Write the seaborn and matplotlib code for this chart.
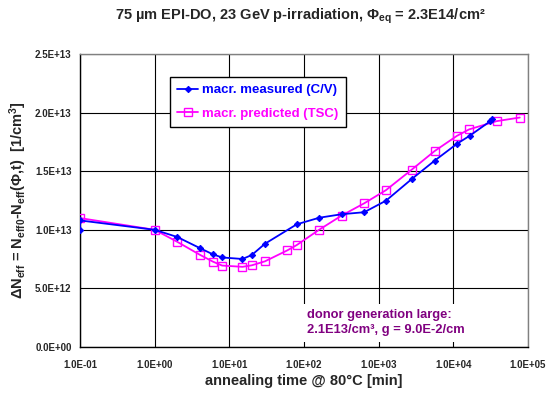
import matplotlib
matplotlib.use("Agg")
import matplotlib.pyplot as plt
import matplotlib.ticker as mticker
import numpy as np
import pandas as pd
import seaborn as sns

# annealing times [min] and effective doping change [1/cm^3]
t_measured = [0.1, 0.1, 1, 2, 4, 6, 8, 15, 20, 30, 80, 160, 320, 640, 1250,
              2770, 5620, 11200, 16600, 31000, 33000]
n_measured = [1.00e13, 1.08e13, 1.00e13, 9.39e12, 8.45e12, 7.91e12, 7.64e12,
              7.51e12, 7.85e12, 8.81e12, 1.047e13, 1.103e13, 1.133e13,
              1.150e13, 1.248e13, 1.433e13, 1.590e13, 1.734e13, 1.803e13,
              1.925e13, 1.943e13]

t_predicted = [0.1, 1, 2, 4, 6, 8, 15, 20, 30, 60, 80, 160, 320, 640, 1250,
               2770, 5620, 11200, 16300, 38000, 77600]
n_predicted = [1.10e13, 1.00e13, 8.98e12, 7.88e12, 7.29e12, 6.95e12, 6.84e12,
               6.97e12, 7.31e12, 8.25e12, 8.70e12, 1.001e13, 1.122e13,
               1.226e13, 1.338e13, 1.513e13, 1.672e13, 1.802e13, 1.857e13,
               1.927e13, 1.958e13]

label_measured = "macr. measured (C/V)"
label_predicted = "macr. predicted (TSC)"

x_ticks = [1e-1, 1e0, 1e1, 1e2, 1e3, 1e4, 1e5]
y_ticks = [0, 5e12, 1e13, 1.5e13, 2e13, 2.5e13]

sns.set_theme(style="white")
plt.rcParams["font.family"] = ["Liberation Sans", "DejaVu Sans"]
plt.rcParams["font.weight"] = "bold"
plt.rcParams["mathtext.fontset"] = "custom"
plt.rcParams["mathtext.rm"] = "Liberation Sans:bold"
plt.rcParams["mathtext.it"] = "Liberation Sans:bold"
plt.rcParams["mathtext.bf"] = "Liberation Sans:bold"

fig = plt.figure(figsize=(5.5, 3.96), dpi=100, facecolor="white")
ax = fig.add_axes([80 / 550, 1 - 347 / 396, 448 / 550, 293 / 396])
ax.set_facecolor("white")

df_m = pd.DataFrame({"t": t_measured, "n": n_measured})
df_p = pd.DataFrame({"t": t_predicted, "n": n_predicted})

sns.lineplot(data=df_m, x="t", y="n", ax=ax, estimator=None, sort=False,
             color="#0000FF", lw=1.3, marker="D", markersize=3.2,
             markeredgecolor="#0000FF", label=label_measured, zorder=4)
sns.lineplot(data=df_p, x="t", y="n", ax=ax, estimator=None, sort=False,
             color="#FF00FF", lw=1.3, marker="s", markersize=5.5,
             markerfacecolor="none", markeredgecolor="#FF00FF",
             markeredgewidth=1.0, label=label_predicted, zorder=3)

ax.set_xscale("log")
ax.set_xlim(1e-1, 1e5)
ax.set_ylim(0, 2.5e13)
ax.set_xticks(x_ticks)
ax.set_yticks(y_ticks)
ax.xaxis.set_major_formatter(mticker.FuncFormatter(lambda v, p: f"{v:.1E}"))
ax.yaxis.set_major_formatter(mticker.FuncFormatter(lambda v, p: f"{v:.1E}"))
ax.xaxis.set_minor_locator(mticker.LogLocator(base=10, subs=np.arange(2, 10)))
ax.xaxis.set_minor_formatter(mticker.NullFormatter())
ax.yaxis.set_minor_locator(mticker.MultipleLocator(1e12))

ax.tick_params(axis="both", which="major", direction="inout", length=6,
               width=0.8, color="black", labelsize=7, pad=3)
ax.tick_params(axis="both", which="minor", direction="in", length=3,
               width=0.6, color="black")
ax.tick_params(axis="x", which="major", pad=6)
for lbl in ax.get_xticklabels() + ax.get_yticklabels():
    lbl.set_fontweight("bold")

ax.grid(True, which="major", color="black", lw=0.8)
ax.set_axisbelow(True)

for side in ("left", "bottom"):
    ax.spines[side].set_color("black")
    ax.spines[side].set_linewidth(1.0)
for side in ("top", "right"):
    ax.spines[side].set_color("#808080")
    ax.spines[side].set_linewidth(1.0)

ax.set_xlabel("annealing time @ 80°C [min]", fontsize=10.5,
              fontweight="bold", labelpad=3)
ax.set_ylabel(r"ΔN$_{eff}$ = N$_{eff0}$-N$_{eff}$(Φ,t)  [1/cm$^3$]",
              fontsize=10.5, fontweight="bold", labelpad=4)

fig.text(300 / 550, 1 - 16 / 396,
         r"75 µm EPI-DO, 23 GeV p-irradiation, Φ$_{eq}$ = 2.3E14/cm²",
         ha="center", va="center", fontsize=10.5, fontweight="bold")

leg = ax.legend(loc="upper left", bbox_to_anchor=((170 - 80) / 448, (347 - 77) / 293),
                frameon=True, fancybox=False, framealpha=1, edgecolor="black",
                borderpad=0.55, handlelength=1.6, handletextpad=0.3,
                borderaxespad=0, labelspacing=0.85,
                prop={"weight": "bold", "size": 9.5})
leg.get_frame().set_linewidth(1.0)
for txt, col in zip(leg.get_texts(), ["#0000FF", "#FF00FF"]):
    txt.set_color(col)

ax.text(110, 9.4e11,
        "donor generation large:\n2.1E13/cm³, g = 9.0E-2/cm",
        color="#800080", fontsize=9.3, fontweight="bold", ha="left",
        va="bottom", linespacing=1.3, zorder=5,
        bbox=dict(facecolor="white", edgecolor="none", pad=4))

fig.savefig("out.png", dpi=100, facecolor="white")
